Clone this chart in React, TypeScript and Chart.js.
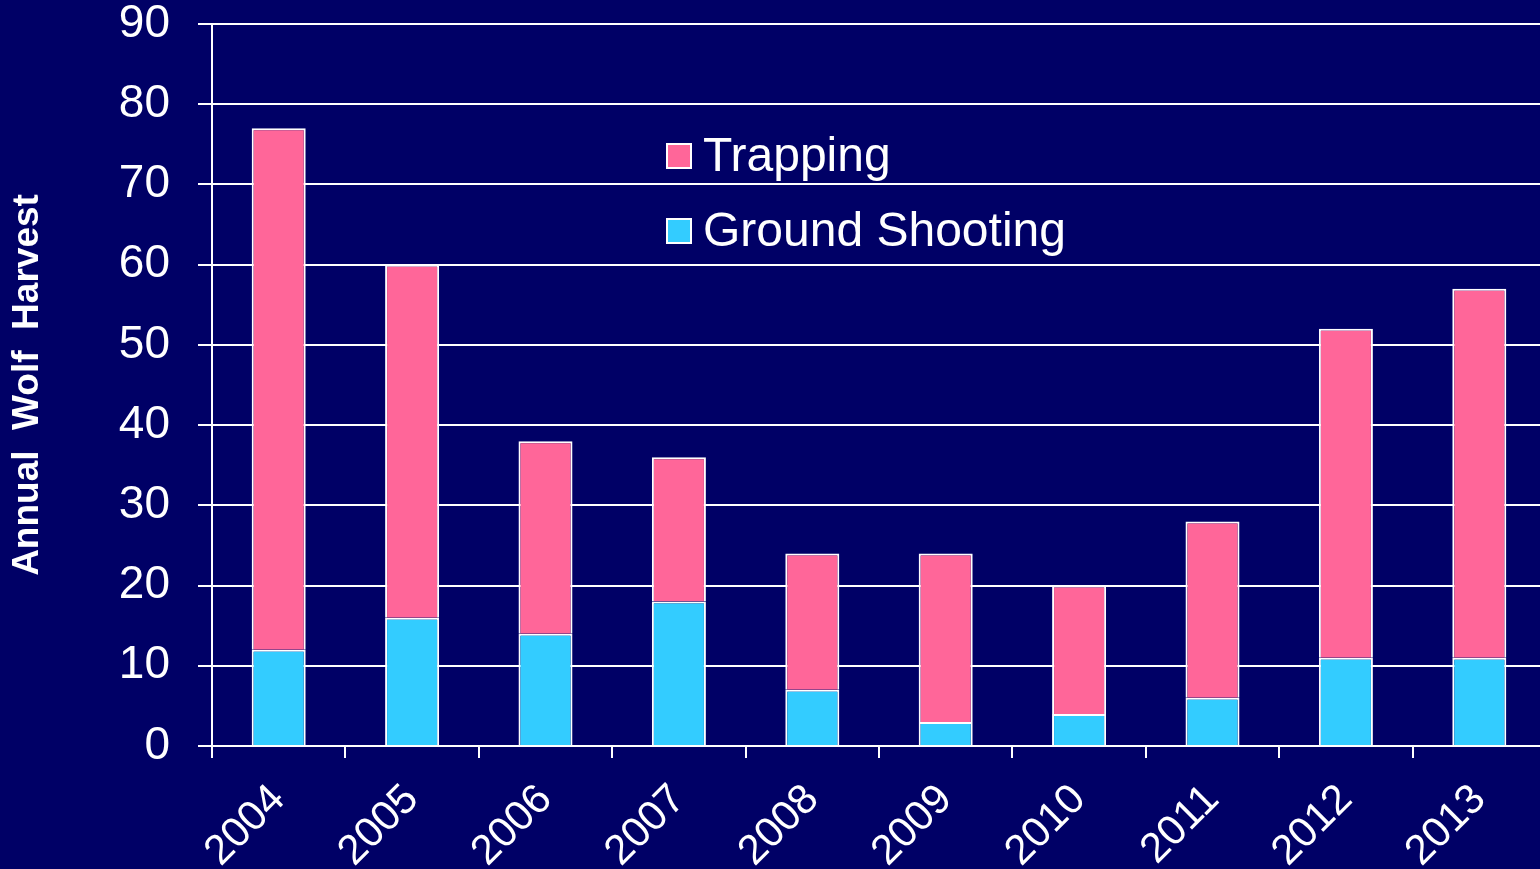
import React, { useEffect, useRef } from "react";
import { Chart, registerables } from "chart.js";

Chart.register(...registerables);

const years = ["2004", "2005", "2006", "2007", "2008", "2009", "2010", "2011", "2012", "2013"];
const groundShooting = [12, 16, 14, 18, 7, 3, 4, 6, 11, 11];
const trapping = [65, 44, 24, 18, 17, 21, 16, 22, 41, 46];
const yTitle = "Annual  Wolf  Harvest";

const BG = "#000066";
const PINK = "#FF6699";
const CYAN = "#33CCFF";
const FONT = "'Liberation Sans', Arial, sans-serif";

const bgPlugin = {
  id: "bgFill",
  beforeDraw(chart: any) {
    const ctx = chart.ctx;
    ctx.save();
    ctx.fillStyle = BG;
    ctx.fillRect(0, 0, chart.width, chart.height);
    ctx.restore();
  },
};

const legendPlugin = {
  id: "customLegend",
  afterDraw(chart: any) {
    const ctx = chart.ctx;
    const items = [chart.data.datasets[1], chart.data.datasets[0]];
    const x = 667;
    const rows = [156, 231];
    ctx.save();
    ctx.font = `48px ${FONT}`;
    ctx.textBaseline = "middle";
    ctx.textAlign = "left";
    items.forEach((ds: any, i: number) => {
      const cy = rows[i];
      ctx.fillStyle = ds.backgroundColor;
      ctx.fillRect(x, cy - 12, 24, 24);
      ctx.strokeStyle = "#ffffff";
      ctx.lineWidth = 2;
      ctx.strokeRect(x, cy - 12, 24, 24);
      ctx.fillStyle = "#ffffff";
      ctx.fillText(ds.label, x + 36, cy + 2);
    });
    ctx.restore();
  },
};

export default function App() {
  const ref = useRef<HTMLCanvasElement | null>(null);

  useEffect(() => {
    const canvas = ref.current;
    if (!canvas) return;
    const chart = new Chart(canvas, {
      type: "bar",
      data: {
        labels: years,
        datasets: [
          {
            label: "Ground Shooting",
            data: groundShooting,
            backgroundColor: CYAN,
            borderColor: "#ffffff",
            borderWidth: 2,
            categoryPercentage: 1,
            barPercentage: 0.405,
          },
          {
            label: "Trapping",
            data: trapping,
            backgroundColor: PINK,
            borderColor: "#ffffff",
            borderWidth: 2,
            categoryPercentage: 1,
            barPercentage: 0.405,
          },
        ],
      },
      options: {
        responsive: false,
        animation: false,
        devicePixelRatio: 1,
        layout: { padding: { top: 24, left: 0, right: 0, bottom: 0 } },
        plugins: {
          legend: { display: false },
          tooltip: { enabled: false },
        },
        scales: {
          x: {
            stacked: true,
            grid: {
              display: true,
              offset: true,
              drawOnChartArea: false,
              drawTicks: true,
              tickLength: 12,
              color: "#ffffff",
              lineWidth: 2,
            },
            border: { display: true, color: "#ffffff", width: 2 },
            ticks: {
              color: "#ffffff",
              font: { family: FONT, size: 42, lineHeight: 1 },
              minRotation: 45,
              maxRotation: 45,
              autoSkip: false,
              padding: 20,
            },
            afterFit(scale: any) {
              scale.height = 123;
              scale.paddingLeft = 0;
              scale.paddingRight = 0;
            },
          },
          y: {
            stacked: true,
            min: 0,
            max: 90,
            ticks: {
              stepSize: 10,
              color: "#ffffff",
              font: { family: FONT, size: 46, lineHeight: 1 },
              padding: 28,
            },
            grid: {
              color: "#ffffff",
              lineWidth: 2,
              tickLength: 14,
              drawTicks: true,
            },
            border: { display: true, color: "#ffffff", width: 2 },
            title: {
              display: true,
              text: yTitle,
              color: "#ffffff",
              font: { family: FONT, size: 37, weight: "bold", lineHeight: 1.2 },
              padding: { top: 6, bottom: 0 },
            },
            afterFit(scale: any) {
              scale.width = 212;
              scale.paddingTop = 0;
              scale.paddingBottom = 0;
            },
          },
        },
      },
      plugins: [bgPlugin, legendPlugin],
    });
    return () => chart.destroy();
  }, []);

  return (
    <div
      style={{
        position: "absolute",
        left: 0,
        top: 0,
        width: 1540,
        height: 869,
        overflow: "hidden",
        background: BG,
      }}
    >
      <canvas ref={ref} width={1546} height={869} style={{ display: "block" }} />
    </div>
  );
}
